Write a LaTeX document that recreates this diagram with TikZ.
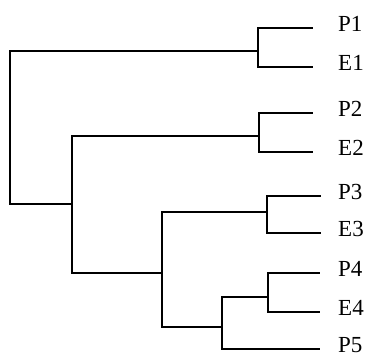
\documentclass[tikz,border=0pt]{standalone}
\usepackage{fontspec}
\setmainfont{Liberation Serif}
\usepackage{tikz}
\usetikzlibrary{positioning}

\begin{document}
\begin{tikzpicture}[
    x=1pt, y=-1pt,
    branch/.style={draw=black, line width=1.3pt},
    leaf/.style={anchor=base west, inner sep=0pt, font=\fontsize{23}{26}\selectfont}
]
\useasboundingbox (0,0) rectangle (367,363);
% joins of the tree
\coordinate (root) at (10,128);
\coordinate (jPE1) at (258,51);
\coordinate (jB) at (72,204);
\coordinate (jPE2) at (259,136);
\coordinate (jC) at (162,273);
\coordinate (jPE3) at (267,212);
\coordinate (jD) at (222,327);
\coordinate (jPE4) at (268,297);
% leaves
\foreach \leaf/\xe/\y in {P1/313/28, E1/313/67, P2/313/113, E2/313/152,
    P3/321/196, E3/321/233, P4/320/273, E4/320/312, P5/320/349} {
    \coordinate (\leaf e) at (\xe,\y);
    \node[leaf] (\leaf) at (338,\y+4) {\leaf};
}
\foreach \a/\b in {root/jPE1, root/jB, jPE1/P1e, jPE1/E1e, jB/jPE2, jB/jC,
    jPE2/P2e, jPE2/E2e, jC/jPE3, jC/jD, jPE3/P3e, jPE3/E3e,
    jD/jPE4, jD/P5e, jPE4/P4e, jPE4/E4e} {
    \draw[branch] (\a) |- (\b);
}
\end{tikzpicture}
\end{document}
